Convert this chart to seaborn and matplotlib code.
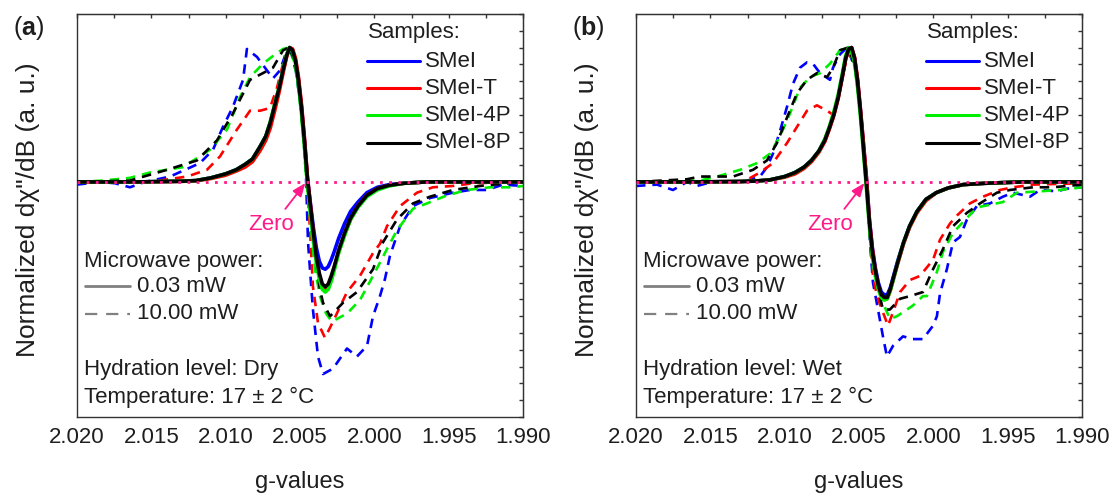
import numpy as np
import pandas as pd
import matplotlib
matplotlib.use("Agg")
import matplotlib.pyplot as plt
import seaborn as sns
from matplotlib.ticker import MultipleLocator, FormatStrFormatter

# ---------------- data ----------------
samples = ["SMeI", "SMeI-T", "SMeI-4P", "SMeI-8P"]
colors = {"SMeI": "#0000ff", "SMeI-T": "#ff0000", "SMeI-4P": "#00ee00", "SMeI-8P": "#000000"}

# solid curves (0.03 mW) share one g grid
g_solid = [2.0200, 2.0160, 2.0130, 2.0120, 2.0110, 2.0100, 2.0093, 2.0087, 2.0082, 2.0077,
           2.0073, 2.0070, 2.0067, 2.0064, 2.0061, 2.0059, 2.0057, 2.0055, 2.0053, 2.0051,
           2.0049, 2.0047, 2.0045, 2.0043, 2.0041, 2.0039, 2.0037, 2.0035, 2.0033, 2.0031,
           2.0029, 2.0027, 2.0024, 2.0020, 2.0016, 2.0011, 2.0005, 1.9998, 1.9990, 1.9980,
           1.9965, 1.9940, 1.9900]

# Panel (a) - dry, 0.03 mW
a_smei_low = [0, 0, 0.005, 0.01, 0.03, 0.06, 0.09, 0.13, 0.17, 0.26, 0.34, 0.44, 0.57, 0.70, 0.85, 0.94, 1.00, 0.98, 0.90, 0.76,
              0.56, 0.31, 0.03, -0.16, -0.34, -0.49, -0.59, -0.64, -0.65, -0.63, -0.58, -0.52, -0.42, -0.31, -0.22, -0.15, -0.08, -0.04, -0.02, -0.01,
              0, 0, 0]
a_smeit_low = [0, 0, 0.004, 0.008, 0.025, 0.05, 0.08, 0.11, 0.15, 0.23, 0.31, 0.40, 0.53, 0.67, 0.83, 0.93, 1.00, 0.99, 0.92, 0.78,
               0.58, 0.33, 0.04, -0.17, -0.38, -0.57, -0.70, -0.78, -0.80, -0.78, -0.72, -0.64, -0.52, -0.39, -0.28, -0.18, -0.10, -0.05, -0.025, -0.01,
               0, 0, 0]
a_smei4p_low = [0, 0, 0.005, 0.01, 0.03, 0.06, 0.09, 0.13, 0.17, 0.26, 0.34, 0.45, 0.58, 0.71, 0.86, 0.95, 1.00, 0.97, 0.88, 0.72,
                0.51, 0.26, -0.03, -0.24, -0.44, -0.61, -0.72, -0.80, -0.82, -0.80, -0.74, -0.66, -0.53, -0.40, -0.28, -0.19, -0.11, -0.06, -0.03, -0.01,
                0, 0, 0]
a_smei8p_low = [0, 0, 0.005, 0.01, 0.03, 0.06, 0.09, 0.13, 0.17, 0.26, 0.34, 0.44, 0.57, 0.70, 0.85, 0.94, 1.00, 0.98, 0.90, 0.75,
                0.55, 0.30, 0.02, -0.18, -0.38, -0.56, -0.68, -0.76, -0.78, -0.76, -0.70, -0.63, -0.51, -0.38, -0.27, -0.18, -0.10, -0.05, -0.025, -0.01,
                0, 0, 0]

# Panel (b) - wet, 0.03 mW
b_smei_low = [0, 0, 0.003, 0.006, 0.015, 0.04, 0.07, 0.11, 0.16, 0.23, 0.31, 0.40, 0.50, 0.63, 0.80, 0.92, 0.99, 1.00, 0.92, 0.76,
              0.53, 0.28, 0.03, -0.28, -0.49, -0.64, -0.75, -0.82, -0.84, -0.84, -0.79, -0.71, -0.59, -0.45, -0.33, -0.22, -0.13, -0.08, -0.045, -0.02,
              -0.01, 0, 0]
b_smeit_low = [0, 0, 0.003, 0.006, 0.015, 0.035, 0.06, 0.10, 0.15, 0.22, 0.30, 0.39, 0.49, 0.62, 0.79, 0.91, 0.99, 1.00, 0.93, 0.77,
               0.54, 0.29, 0.03, -0.28, -0.50, -0.66, -0.78, -0.85, -0.87, -0.87, -0.81, -0.73, -0.61, -0.46, -0.34, -0.23, -0.14, -0.08, -0.045, -0.02,
               -0.01, 0, 0]
b_smei4p_low = [0, 0, 0.003, 0.006, 0.015, 0.04, 0.07, 0.11, 0.16, 0.23, 0.32, 0.41, 0.52, 0.65, 0.82, 0.94, 1.00, 0.98, 0.89, 0.71,
                0.48, 0.22, -0.05, -0.34, -0.56, -0.70, -0.80, -0.86, -0.88, -0.87, -0.81, -0.73, -0.60, -0.45, -0.33, -0.22, -0.13, -0.08, -0.045, -0.02,
                -0.01, 0, 0]
b_smei8p_low = [0, 0, 0.003, 0.006, 0.015, 0.04, 0.07, 0.11, 0.16, 0.23, 0.31, 0.40, 0.50, 0.63, 0.80, 0.92, 0.99, 1.00, 0.92, 0.75,
                0.52, 0.25, -0.02, -0.30, -0.52, -0.66, -0.77, -0.84, -0.86, -0.86, -0.80, -0.72, -0.60, -0.45, -0.33, -0.22, -0.13, -0.08, -0.045, -0.02,
                -0.01, 0, 0]

# Panel (a) - dry, 10.00 mW (dashed)
a_smei_high_g = [2.0200, 2.01845, 2.01744, 2.01644, 2.01543, 2.01374, 2.01173, 2.01085, 2.01018, 2.00951,
                 2.00883, 2.00857, 2.00789, 2.00682, 2.00635, 2.00588, 2.00561, 2.00527, 2.00500, 2.00480,
                 2.00460, 2.00446, 2.00433, 2.00413, 2.00379, 2.00345, 2.00278, 2.00184, 2.00117, 2.00049,
                 2.00009, 1.99962, 1.99928, 1.99895, 1.99827, 1.99740, 1.99626, 1.99471, 1.99357, 1.99242,
                 1.99135, 1.99000]
a_smei_high = [-0.02, 0.00, -0.01, -0.04, 0.00, 0.04, 0.14, 0.24, 0.41, 0.56,
               0.76, 0.99, 0.93, 0.77, 0.83, 0.98, 0.97, 0.82, 0.60, 0.39,
               0.05, -0.45, -0.65, -0.95, -1.30, -1.43, -1.39, -1.24, -1.30, -1.22,
               -1.00, -0.85, -0.72, -0.55, -0.33, -0.18, -0.12, -0.08, -0.06, -0.06,
               -0.02, -0.03]
a_smeit_high_g = [2.0200, 2.01509, 2.01260, 2.01126, 2.01038, 2.00924, 2.00836, 2.00769, 2.00702, 2.00655,
                  2.00614, 2.00574, 2.00534, 2.00500, 2.00473, 2.00453, 2.00433, 2.00413, 2.00379, 2.00332,
                  2.00278, 2.00184, 2.00097, 2.00009, 1.99962, 1.99915, 1.99827, 1.99713, 1.99606, 1.99471,
                  1.99337, 1.99000]
a_smeit_high = [0, 0, 0.04, 0.09, 0.19, 0.39, 0.53, 0.53, 0.55, 0.70,
                0.88, 1.00, 0.90, 0.63, 0.30, 0.0, -0.35, -0.78, -1.05, -1.16,
                -1.04, -0.82, -0.70, -0.53, -0.46, -0.33, -0.18, -0.08, -0.04, -0.03,
                -0.01, 0.0]
a_smei4p_high_g = [2.0200, 2.01825, 2.01644, 2.01509, 2.01287, 2.01105, 2.00991, 2.00904, 2.00836, 2.00749,
                   2.00655, 2.00614, 2.00574, 2.00534, 2.00500, 2.00473, 2.00453, 2.00426, 2.00399, 2.00366,
                   2.00325, 2.00285, 2.00184, 2.00097, 2.00009, 1.99915, 1.99848, 1.99740, 1.99646, 1.99511,
                   1.99377, 1.99222, 1.99067, 1.99000]
a_smei4p_high = [0, 0.01, 0.03, 0.07, 0.11, 0.24, 0.39, 0.63, 0.78, 0.88,
                 0.96, 0.99, 1.00, 0.88, 0.60, 0.27, -0.03, -0.35, -0.65, -0.85,
                 -0.98, -1.04, -0.98, -0.88, -0.70, -0.50, -0.36, -0.20, -0.16, -0.10,
                 -0.06, -0.04, -0.04, -0.03]
a_smei8p_high_g = [2.0200, 2.01644, 2.01395, 2.01193, 2.01058, 2.00951, 2.00836, 2.00749, 2.00682, 2.00614,
                   2.00574, 2.00534, 2.00500, 2.00473, 2.00453, 2.00426, 2.00392, 2.00366, 2.00345, 2.00298,
                   2.00211, 2.00117, 2.00009, 1.99942, 1.99848, 1.99740, 1.99626, 1.99471, 1.99289, 1.99000]
a_smei8p_high = [0, 0.01, 0.09, 0.16, 0.31, 0.51, 0.76, 0.81, 0.85, 0.98,
                 1.00, 0.90, 0.63, 0.30, 0.0, -0.30, -0.60, -0.80, -0.90, -1.00,
                 -0.90, -0.82, -0.65, -0.45, -0.28, -0.16, -0.11, -0.06, -0.03, 0.0]

# Panel (b) - wet, 10.00 mW (dashed)
b_smei_high_g = [2.02000, 2.01859, 2.01751, 2.01657, 2.01590, 2.01522, 2.01455, 2.01280, 2.01166, 2.01119,
                 2.01079, 2.01031, 2.00984, 2.00944, 2.00897, 2.00850, 2.00810, 2.00762, 2.00695, 2.00675,
                 2.00628, 2.00581, 2.00527, 2.00493, 2.00466, 2.00446, 2.00426, 2.00406, 2.00372, 2.00339,
                 2.00312, 2.00271, 2.00204, 2.00137, 2.00070, 2.00002, 1.99976, 1.99955, 1.99909, 1.99868,
                 1.99821, 1.99774, 1.99707, 1.99619, 1.99532, 1.99464, 1.99350, 1.99283, 1.99168, 1.99101,
                 1.99000]
b_smei_high = [-0.03, -0.02, -0.06, 0.0, -0.03, -0.01, 0.0, 0.0, 0.04, 0.11,
               0.21, 0.38, 0.56, 0.73, 0.85, 0.89, 0.88, 0.81, 0.76, 0.85,
               0.95, 1.00, 0.85, 0.55, 0.20, -0.05, -0.45, -0.75, -0.95, -1.15,
               -1.30, -1.22, -1.15, -1.17, -1.17, -1.07, -1.00, -0.83, -0.65, -0.45,
               -0.41, -0.28, -0.18, -0.16, -0.11, -0.08, -0.11, -0.06, -0.07, -0.05,
               -0.04]
b_smeit_high_g = [2.02000, 2.01570, 2.01280, 2.01166, 2.01079, 2.00984, 2.00917, 2.00850, 2.00783, 2.00715,
                  2.00675, 2.00628, 2.00581, 2.00561, 2.00527, 2.00493, 2.00466, 2.00446, 2.00426, 2.00406,
                  2.00379, 2.00339, 2.00305, 2.00271, 2.00224, 2.00157, 2.00090, 2.00002, 1.99955, 1.99888,
                  1.99841, 1.99754, 1.99666, 1.99552, 1.99464, 1.99330, 1.99000]
b_smeit_high = [0, 0, 0.0, 0.07, 0.14, 0.29, 0.41, 0.53, 0.57, 0.53,
                0.50, 0.70, 0.93, 1.00, 0.88, 0.58, 0.25, 0.0, -0.40, -0.70,
                -0.85, -0.97, -1.07, -0.97, -0.82, -0.73, -0.70, -0.58, -0.43, -0.31,
                -0.25, -0.16, -0.11, -0.06, -0.04, -0.02, -0.01]
b_smei4p_high_g = [2.02000, 2.01570, 2.01455, 2.01300, 2.01186, 2.01099, 2.01031, 2.00964, 2.00897, 2.00830,
                   2.00762, 2.00695, 2.00628, 2.00574, 2.00527, 2.00493, 2.00466, 2.00446, 2.00426, 2.00392,
                   2.00339, 2.00292, 2.00245, 2.00204, 2.00137, 2.00070, 2.00043, 1.99976, 1.99935, 1.99868,
                   1.99801, 1.99707, 1.99619, 1.99532, 1.99437, 1.99283, 1.99148, 1.99000]
b_smei4p_high = [0, 0.01, 0.04, 0.09, 0.14, 0.21, 0.34, 0.51, 0.70, 0.78,
                 0.81, 0.88, 0.98, 1.00, 0.85, 0.55, 0.20, -0.05, -0.40, -0.70,
                 -0.90, -1.02, -1.00, -0.97, -0.92, -0.85, -0.85, -0.67, -0.52, -0.38,
                 -0.30, -0.19, -0.17, -0.15, -0.08, -0.07, -0.06, -0.04]
b_smei8p_high_g = [2.02000, 2.01657, 2.01570, 2.01348, 2.01213, 2.01119, 2.01052, 2.00984, 2.00917, 2.00850,
                   2.00783, 2.00715, 2.00675, 2.00628, 2.00574, 2.00527, 2.00493, 2.00466, 2.00446, 2.00426,
                   2.00392, 2.00339, 2.00292, 2.00224, 2.00157, 2.00070, 2.00002, 1.99935, 1.99868, 1.99774,
                   1.99686, 1.99572, 1.99485, 1.99330, 1.99195, 1.99000]
b_smei8p_high = [0, 0.02, 0.04, 0.04, 0.09, 0.16, 0.29, 0.48, 0.66, 0.76,
                 0.81, 0.78, 0.85, 0.98, 1.00, 0.87, 0.58, 0.22, -0.02, -0.40,
                 -0.70, -0.95, -0.95, -0.87, -0.85, -0.82, -0.65, -0.50, -0.33, -0.23,
                 -0.16, -0.08, -0.06, -0.04, -0.04, -0.02]

x_ticks = [2.020, 2.015, 2.010, 2.005, 2.000, 1.995, 1.990]
power_labels = ["0.03 mW", "10.00 mW"]

panels = [
    dict(letter="a", hydration="Dry",
         low=[a_smei_low, a_smeit_low, a_smei4p_low, a_smei8p_low],
         high=[(a_smei_high_g, a_smei_high), (a_smeit_high_g, a_smeit_high),
               (a_smei4p_high_g, a_smei4p_high), (a_smei8p_high_g, a_smei8p_high)]),
    dict(letter="b", hydration="Wet",
         low=[b_smei_low, b_smeit_low, b_smei4p_low, b_smei8p_low],
         high=[(b_smei_high_g, b_smei_high), (b_smeit_high_g, b_smeit_high),
               (b_smei4p_high_g, b_smei4p_high), (b_smei8p_high_g, b_smei8p_high)]),
]

# ---------------- style ----------------
sns.set_style("white")
plt.rcParams["font.family"] = ["Liberation Sans", "DejaVu Sans"]
plt.rcParams["mathtext.fontset"] = "custom"
plt.rcParams["mathtext.rm"] = "Liberation Sans"
plt.rcParams["mathtext.bf"] = "Liberation Sans:bold"

TXT = "#1e1e1e"
PINK = "#ff1a8c"
SPINE = "#333333"
FS = 16
DASH = (0, (3.6, 2.6))

W, H = 1112, 493
fig = plt.figure(figsize=(W / 100, H / 100), dpi=100)
lefts = [77, 636]

for left, p in zip(lefts, panels):
    ax = fig.add_axes([left / W, (H - 417) / H, 446 / W, 403 / H])

    # dashed (10.00 mW)
    for name, (gg, yy) in zip(samples, p["high"]):
        df = pd.DataFrame({"g": gg, "y": yy})
        sns.lineplot(data=df, x="g", y="y", ax=ax, color=colors[name], lw=1.9,
                     linestyle=DASH, estimator=None, sort=False, legend=False, zorder=2)
    # solid (0.03 mW)
    for name, yy in zip(samples, p["low"]):
        df = pd.DataFrame({"g": g_solid, "y": yy})
        sns.lineplot(data=df, x="g", y="y", ax=ax, color=colors[name], lw=2.6,
                     estimator=None, sort=False, legend=False, zorder=3)
    ax.axhline(0, color=PINK, lw=2.0, linestyle=(0, (1, 2.3)), zorder=5)

    ax.set_xlim(2.020, 1.990)
    ax.set_ylim(-1.75, 1.25)
    ax.xaxis.set_major_locator(MultipleLocator(0.005))
    ax.xaxis.set_minor_locator(MultipleLocator(0.0025))
    ax.xaxis.set_major_formatter(FormatStrFormatter("%.3f"))
    ax.set_xticks(x_ticks)
    ax.yaxis.set_major_locator(MultipleLocator(0.25))
    ax.yaxis.set_minor_locator(MultipleLocator(0.125))
    ax.tick_params(axis="both", which="both", direction="out", colors=SPINE,
                   labelcolor=TXT, labelsize=FS, top=False, right=False, width=1.0)
    ax.tick_params(axis="x", which="major", length=5, pad=2)
    ax.tick_params(axis="x", which="minor", length=3)
    ax.tick_params(axis="y", which="both", length=4, labelleft=False)
    for s in ax.spines.values():
        s.set_visible(True)
        s.set_color(SPINE)
        s.set_linewidth(1.0)

    sx = ax.secondary_xaxis("top")
    sx.xaxis.set_major_locator(MultipleLocator(0.0025))
    sx.tick_params(direction="in", length=3, labeltop=False, colors=SPINE, width=1.0)
    sx.spines["top"].set_color(SPINE)
    sy = ax.secondary_yaxis("right")
    sy.yaxis.set_major_locator(MultipleLocator(0.125))
    sy.tick_params(direction="in", length=3, labelright=False, colors=SPINE, width=1.0)
    sy.spines["right"].set_color(SPINE)

    ax.set_xlabel("g-values", fontsize=17, color=TXT)
    ax.xaxis.set_label_coords(0.5, -0.135)
    ax.set_ylabel('Normalized d\u03c7"/dB (a. u.)', fontsize=19, color=TXT)
    ax.yaxis.set_label_coords(-0.083, 0.514)

    # sample legend
    ax.text(0.652, 0.953, "Samples:", transform=ax.transAxes, fontsize=FS, color=TXT,
            ha="left", va="center")
    for name, yy in zip(samples, [0.883, 0.816, 0.749, 0.680]):
        ax.plot([0.650, 0.769], [yy, yy], transform=ax.transAxes, color=colors[name], lw=2.2)
        ax.text(0.780, yy, name, transform=ax.transAxes, fontsize=FS, color=TXT,
                ha="left", va="center")

    # power legend
    ax.text(0.0157, 0.385, "Microwave power:", transform=ax.transAxes, fontsize=FS,
            color=TXT, ha="left", va="center")
    ax.plot([0.018, 0.119], [0.325, 0.325], transform=ax.transAxes, color="#808080", lw=2.0)
    ax.plot([0.018, 0.119], [0.256, 0.256], transform=ax.transAxes, color="#808080", lw=1.6,
            linestyle=(0, (5.5, 4.0)))
    ax.text(0.1345, 0.325, power_labels[0], transform=ax.transAxes, fontsize=FS, color=TXT,
            ha="left", va="center")
    ax.text(0.1345, 0.256, power_labels[1], transform=ax.transAxes, fontsize=FS, color=TXT,
            ha="left", va="center")

    ax.text(0.0157, 0.119, "Hydration level: " + p["hydration"], transform=ax.transAxes,
            fontsize=FS, color=TXT, ha="left", va="center")
    ax.text(0.0157, 0.0496, "Temperature: 17 \u00b1 2 \u00b0C", transform=ax.transAxes,
            fontsize=FS, color=TXT, ha="left", va="center")

    ax.annotate("Zero", xy=(2.00458, 0.0), xytext=(2.00695, -0.32), fontsize=FS, color=PINK,
                ha="center", va="center",
                arrowprops=dict(arrowstyle="-|>,head_length=0.5,head_width=0.2", color=PINK,
                                lw=1.3, relpos=(0.72, 1.0), shrinkA=2, shrinkB=1))

    fig.text((left - 64) / W, (H - 28) / H, "($\\mathbf{%s}$)" % p["letter"], fontsize=18,
             color=TXT, ha="left", va="center")

fig.savefig("out.png", dpi=100)
